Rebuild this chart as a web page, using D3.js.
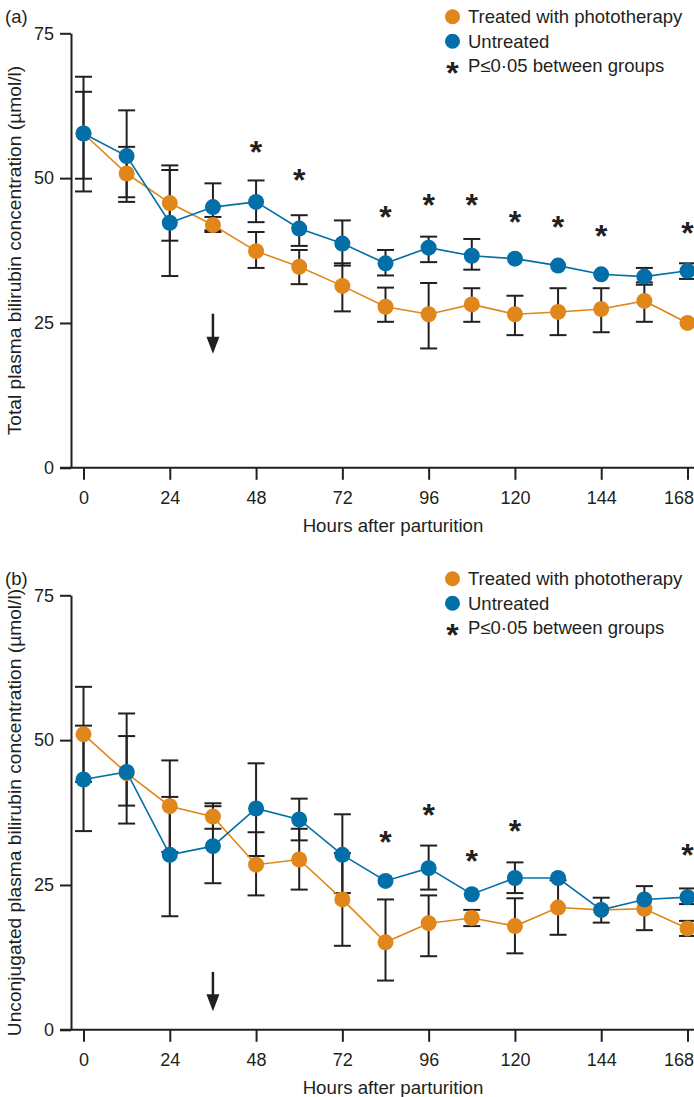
<!DOCTYPE html>
<html>
<head>
<meta charset="utf-8">
<script src="https://cdn.jsdelivr.net/npm/d3@7"></script>
<style>
  body { margin: 0; background: #fff; }
  svg { display: block; font-family: "Liberation Sans", Arial, sans-serif; }
</style>
</head>
<body>
<div id="chart"></div>
<script>
// Sampling times (hours after parturition)
const hours = [0, 12, 24, 36, 48, 60, 72, 84, 96, 108, 120, 132, 144, 156, 168];
const xTicks = [0, 24, 48, 72, 96, 120, 144, 168];
const yTicks = [0, 25, 50, 75];

// Panel (a): total plasma bilirubin
const totalTreated    = [57.7, 50.8, 45.7, 41.9, 37.4, 34.7, 31.4, 27.8, 26.5, 28.2, 26.5, 26.9, 27.4, 28.8, 25.0];
const totalTreatedHi  = [64.9, 55.4, 52.2, 43.3, 40.7, 37.6, 35.3, 31.1, 31.9, 31.0, 29.7, 31.0, 31.0, 32.0, null];
const totalTreatedLo  = [49.9, 46.7, 39.2, 40.7, 34.5, 31.7, 27.0, 25.2, 20.6, 25.2, 22.9, 22.9, 23.4, 25.2, null];
const totalUntreated   = [57.7, 53.8, 42.3, 45.0, 45.9, 41.3, 38.7, 35.3, 38.0, 36.6, 36.1, 34.9, 33.4, 33.0, 34.0];
const totalUntreatedHi = [67.5, 61.7, 51.4, 49.1, 49.6, 43.6, 42.7, 37.6, 39.9, 39.5, null, null, null, 34.5, 35.3];
const totalUntreatedLo = [47.7, 45.9, 33.1, 41.0, 42.4, 38.3, 34.9, 33.2, 35.5, 34.2, null, null, null, 31.6, 32.6];
const totalSigHours  = [48, 60, 84, 96, 108, 120, 132, 144, 168];
const totalSigLevels = [55.8, 50.8, 44.5, 46.5, 46.5, 43.6, 42.7, 41.3, 41.8];
const totalArrow = { hour: 36, from: 26.6, to: 19.7 };

// Panel (b): unconjugated plasma bilirubin
const unconjTreated    = [51.0, 44.3, 38.6, 36.8, 28.5, 29.4, 22.5, 15.1, 18.4, 19.3, 17.9, 21.1, 20.7, 20.9, 17.5];
const unconjTreatedHi  = [59.2, 50.7, 46.5, 39.1, 34.1, 34.7, 30.5, 22.5, 23.2, 20.7, 22.7, 25.8, null, 24.8, 18.8];
const unconjTreatedLo  = [42.8, 38.7, 30.7, 34.7, 23.2, 24.2, 14.5, 8.5, 12.7, 17.9, 13.2, 16.4, null, 17.2, 16.2];
const unconjUntreated   = [43.2, 44.5, 30.2, 31.7, 38.2, 36.3, 30.2, 25.7, 27.9, 23.4, 26.2, 26.2, 20.7, 22.5, 22.9];
const unconjUntreatedHi = [52.5, 54.6, 40.2, 38.6, 46.0, 39.9, 37.2, null, 31.8, null, 28.9, null, 22.8, null, 24.4];
const unconjUntreatedLo = [34.3, 35.6, 19.6, 25.3, 30.0, 32.7, 23.6, null, 24.2, null, 23.6, null, 18.5, null, 21.7];
const unconjSigHours  = [84, 96, 108, 120, 168];
const unconjSigLevels = [33.6, 38.3, 30.4, 35.6, 31.3];
const unconjArrow = { hour: 36, from: 10.0, to: 3.2 };

const legendLabels = ["Treated with phototherapy", "Untreated", "P\u22640\u00b705 between groups"];

const ORANGE = "#E0861A";
const BLUE = "#036FA8";
const INK = "#231F20";

const W = 694, H = 1097;
const svg = d3.select("#chart").append("svg")
  .attr("width", W)
  .attr("height", H);

const x = d3.scaleLinear().domain([0, 168]).range([83.5, 687.5]);

function drawPanel(top, letter, yTitle, s) {
  const g = svg.append("g").attr("transform", `translate(0,${top})`);
  const y = d3.scaleLinear().domain([0, 75]).range([434.5, 0]);
  const axisX = 71;

  // y axis
  g.append("g")
    .attr("transform", `translate(${axisX},0)`)
    .call(d3.axisLeft(y).tickValues(yTicks).tickSize(11).tickPadding(6).tickSizeOuter(0))
    .call(a => a.select(".domain").attr("stroke", INK).attr("stroke-width", 2))
    .call(a => a.selectAll(".tick line").attr("stroke", INK).attr("stroke-width", 2))
    .call(a => a.selectAll(".tick text").attr("fill", INK)
      .style("font-size", "18px").style("font-family", "Liberation Sans, Arial, sans-serif"));

  // x axis
  const xa = g.append("g")
    .attr("transform", `translate(0,${y(0)})`)
    .call(d3.axisBottom(x).tickValues(xTicks).tickSize(12).tickPadding(11).tickSizeOuter(0));
  xa.select(".domain").remove();
  xa.selectAll(".tick line").attr("stroke", INK).attr("stroke-width", 2);
  xa.selectAll(".tick text").attr("fill", INK)
    .style("font-size", "18px").style("font-family", "Liberation Sans, Arial, sans-serif")
    .attr("dx", d => d === 168 ? -9 : 0);
  xa.append("line")
    .attr("x1", axisX - 11).attr("x2", W)
    .attr("y1", 0).attr("y2", 0)
    .attr("stroke", INK).attr("stroke-width", 2);

  // titles
  g.append("text")
    .attr("x", 393).attr("y", y(0) + 64)
    .attr("text-anchor", "middle")
    .attr("fill", INK)
    .style("font-size", "18.7px")
    .text("Hours after parturition");

  g.append("text")
    .attr("transform", `translate(21,${y(37.5)}) rotate(-90)`)
    .attr("text-anchor", "middle")
    .attr("fill", INK)
    .style("font-size", "19.2px")
    .text(yTitle);

  g.append("text")
    .attr("x", 5).attr("y", -10)
    .attr("fill", INK)
    .style("font-size", "18.5px")
    .text(letter);

  const series = [
    { name: "treated", color: ORANGE, v: s.treated, hi: s.treatedHi, lo: s.treatedLo },
    { name: "untreated", color: BLUE, v: s.untreated, hi: s.untreatedHi, lo: s.untreatedLo }
  ];

  // error bars
  series.forEach(ser => {
    const bars = hours.map((h, i) => ({ h, hi: ser.hi[i], lo: ser.lo[i] }))
      .filter(d => d.hi != null && d.lo != null);
    const eb = g.append("g").attr("stroke", INK).attr("stroke-width", 2);
    eb.selectAll(".stem").data(bars).enter().append("line")
      .attr("x1", d => x(d.h)).attr("x2", d => x(d.h))
      .attr("y1", d => y(d.hi)).attr("y2", d => y(d.lo));
    eb.selectAll(".capHi").data(bars).enter().append("line")
      .attr("x1", d => x(d.h) - 8.5).attr("x2", d => x(d.h) + 8.5)
      .attr("y1", d => y(d.hi)).attr("y2", d => y(d.hi));
    eb.selectAll(".capLo").data(bars).enter().append("line")
      .attr("x1", d => x(d.h) - 8.5).attr("x2", d => x(d.h) + 8.5)
      .attr("y1", d => y(d.lo)).attr("y2", d => y(d.lo));
  });

  const line = d3.line().x((d, i) => x(hours[i])).y(d => y(d));
  series.forEach(ser => {
    g.append("path")
      .datum(ser.v)
      .attr("fill", "none")
      .attr("stroke", ser.color)
      .attr("stroke-width", 1.6)
      .attr("d", line);
  });
  series.forEach(ser => {
    g.selectAll(".pt-" + ser.name).data(ser.v).enter().append("circle")
      .attr("cx", (d, i) => x(hours[i]))
      .attr("cy", d => y(d))
      .attr("r", 8)
      .attr("fill", ser.color);
  });

  // significance asterisks
  g.selectAll(".sig").data(s.sigHours).enter().append("text")
    .attr("x", d => x(d))
    .attr("y", (d, i) => y(s.sigLevels[i]) + 18)
    .attr("text-anchor", "middle")
    .attr("fill", INK)
    .style("font-size", "32px")
    .style("font-weight", "bold")
    .text("*");

  // arrow marking start of phototherapy
  const ax = x(s.arrow.hour);
  g.append("line")
    .attr("x1", ax).attr("x2", ax)
    .attr("y1", y(s.arrow.from)).attr("y2", y(s.arrow.to) - 10)
    .attr("stroke", INK).attr("stroke-width", 2.5);
  g.append("path")
    .attr("d", `M${ax - 6.5},${y(s.arrow.to) - 17} L${ax + 6.5},${y(s.arrow.to) - 17} L${ax},${y(s.arrow.to)} Z`)
    .attr("fill", INK);

  // legend
  const lg = g.append("g").attr("transform", "translate(452.5,-16.5)");
  [ORANGE, BLUE].forEach((c, i) => {
    lg.append("circle").attr("cx", 0).attr("cy", i * 24.5).attr("r", 7.5).attr("fill", c);
  });
  lg.append("text").attr("x", 0).attr("y", 2 * 24.5 + 18)
    .attr("text-anchor", "middle").attr("fill", INK)
    .style("font-size", "32px").style("font-weight", "bold").text("*");
  legendLabels.forEach((t, i) => {
    lg.append("text")
      .attr("x", 15.5).attr("y", i * 24.5)
      .attr("dy", "0.35em")
      .attr("fill", INK)
      .style("font-size", "18.5px")
      .text(t);
  });
}

drawPanel(33.3, "(a)", "Total plasma bilirubin concentration (\u00b5mol/l)", {
  treated: totalTreated, treatedHi: totalTreatedHi, treatedLo: totalTreatedLo,
  untreated: totalUntreated, untreatedHi: totalUntreatedHi, untreatedLo: totalUntreatedLo,
  sigHours: totalSigHours, sigLevels: totalSigLevels, arrow: totalArrow
});

drawPanel(595.3, "(b)", "Unconjugated plasma bilirubin concentration (\u00b5mol/l)", {
  treated: unconjTreated, treatedHi: unconjTreatedHi, treatedLo: unconjTreatedLo,
  untreated: unconjUntreated, untreatedHi: unconjUntreatedHi, untreatedLo: unconjUntreatedLo,
  sigHours: unconjSigHours, sigLevels: unconjSigLevels, arrow: unconjArrow
});
</script>
</body>
</html>
